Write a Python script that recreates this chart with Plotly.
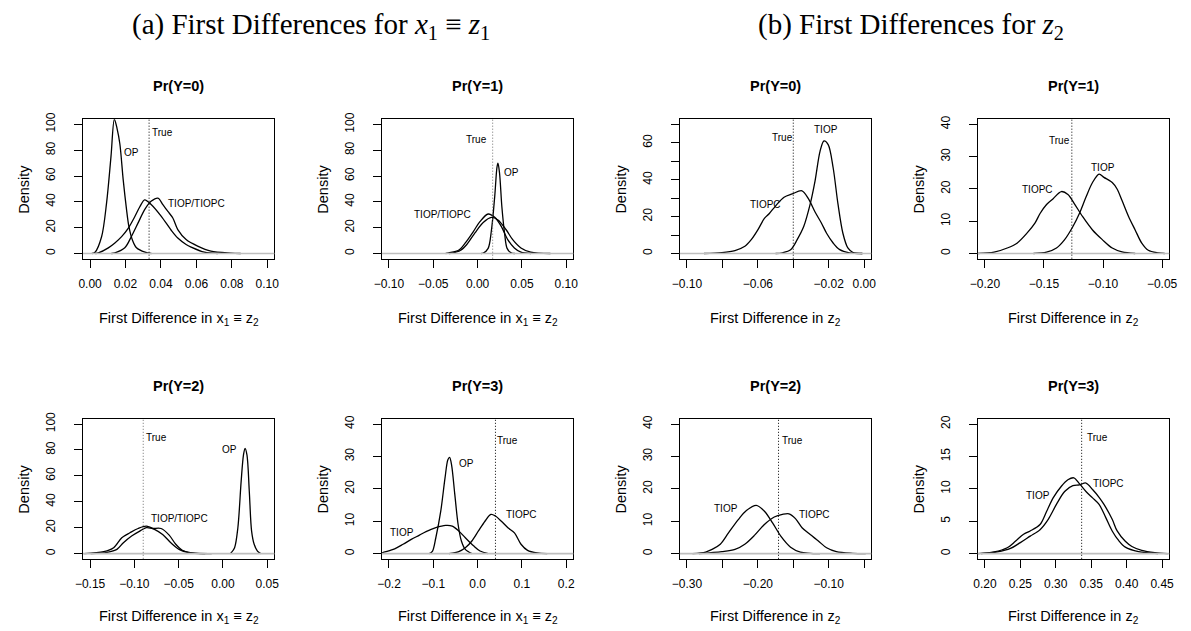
import plotly.graph_objects as go

# ---------------------------------------------------------------
# Density estimates of simulated first differences
# ---------------------------------------------------------------

# (a) x1 = z1, Pr(Y=0)
a0_op_x = [0.0010, 0.0028, 0.0065, 0.0093, 0.0118, 0.0137, 0.0152, 0.0168, 0.0187, 0.0205, 0.0219, 0.0240, 0.0262, 0.0310, 0.0346]
a0_op_y = [0, 1, 13, 39, 75, 104, 97, 85, 57, 35, 21, 10, 4.4, 1, 0]
a0_tiop_x = [0.0030, 0.0047, 0.0103, 0.0140, 0.0178, 0.0215, 0.0252, 0.0280, 0.0308, 0.0346, 0.0402, 0.0458, 0.0495, 0.0542, 0.0570, 0.0645, 0.0720]
a0_tiop_y = [0, 0.5, 4.4, 8.2, 13.1, 19.5, 28.5, 36, 41.6, 37.8, 28.8, 18, 12, 7, 5, 1, 0]
a0_tiopc_x = [0.0120, 0.0140, 0.0196, 0.0234, 0.0271, 0.0308, 0.0346, 0.0383, 0.0411, 0.0439, 0.0467, 0.0495, 0.0542, 0.0607, 0.0682, 0.0794, 0.0850]
a0_tiopc_y = [0, 0.5, 4.4, 13.4, 23.7, 34, 40.6, 42.9, 37.8, 32.6, 27.5, 18.5, 10.8, 5.7, 1.8, 0.3, 0]

# (a) Pr(Y=1)
a1_op_x = [0.0040, 0.0063, 0.0119, 0.0156, 0.0193, 0.0219, 0.0230, 0.0248, 0.0274, 0.0304, 0.0333, 0.0378, 0.0420]
a1_op_y = [0, 0.3, 4, 18, 44, 67, 70, 62, 36, 16, 4, 0.5, 0]
a1_tiop_x = [-0.0360, -0.0326, -0.0215, -0.0141, -0.0048, 0.0026, 0.0119, 0.0193, 0.0267, 0.0340, 0.0415, 0.0489, 0.0600]
a1_tiop_y = [0, 0.5, 2.5, 8, 17, 24.7, 30.6, 28, 21, 10.7, 4.3, 1, 0]
a1_tiopc_x = [-0.0320, -0.0289, -0.0196, -0.0122, -0.0030, 0.0063, 0.0156, 0.0230, 0.0322, 0.0396, 0.0489, 0.0600, 0.0822]
a1_tiopc_y = [0, 0.3, 2.3, 7, 16, 24, 28, 26, 18.4, 10.7, 4.3, 1, 0]

# (a) Pr(Y=2)
a2_op_x = [0.0080, 0.0094, 0.0131, 0.0168, 0.0205, 0.0231, 0.0249, 0.0271, 0.0297, 0.0323, 0.0352, 0.0389, 0.0426]
a2_op_y = [0, 0.8, 4.6, 20, 55.8, 76, 81.3, 76, 48, 17.4, 7.2, 2, 0]
a2_tiop_x = [-0.1566, -0.1345, -0.1234, -0.1142, -0.1050, -0.0958, -0.0865, -0.0773, -0.0681, -0.0589, -0.0496, -0.0386, -0.0200]
a2_tiop_y = [0, 1.5, 4.6, 12.3, 16.1, 19.4, 21.2, 18.7, 14.8, 8.4, 3.3, 0.8, 0]
a2_tiopc_x = [-0.1493, -0.1308, -0.1197, -0.1124, -0.1031, -0.0939, -0.0865, -0.0792, -0.0699, -0.0607, -0.0533, -0.0459, -0.0349, -0.0127]
a2_tiopc_y = [0, 1, 3.3, 8.4, 13.6, 17.4, 20, 19.4, 19.4, 14.3, 7.2, 2.6, 0.5, 0]

# (a) Pr(Y=3)
a3_op_x = [-0.1090, -0.1017, -0.0943, -0.0832, -0.0736, -0.0671, -0.0632, -0.0588, -0.0514, -0.0440, -0.0366, -0.0277, -0.0129]
a3_op_y = [0, 0.8, 4.9, 13.1, 23.3, 29, 29.7, 27.4, 18.2, 9, 3.9, 1.3, 0]
a3_tiop_x = [-0.2160, -0.2126, -0.1904, -0.1682, -0.1497, -0.1312, -0.1164, -0.0943, -0.0721, -0.0573, -0.0425, -0.0277, -0.0092, 0.0055, 0.0240]
a3_tiop_y = [0.3, 0.4, 1.3, 2.9, 4.4, 5.7, 6.8, 8, 8.7, 8.5, 7, 4.9, 2.4, 0.8, 0]
a3_tiopc_x = [-0.0647, -0.0425, -0.0277, -0.0129, 0.0019, 0.0166, 0.0300, 0.0403, 0.0536, 0.0684, 0.0832, 0.0980, 0.1128, 0.1349, 0.1571]
a3_tiopc_y = [0, 0.6, 1.8, 3.9, 7, 10, 12.1, 11.6, 10, 8, 6.4, 2.9, 1, 0.2, 0]

# (b) z2, Pr(Y=0)
b0_tiop_x = [-0.0500, -0.0461, -0.0415, -0.0378, -0.0341, -0.0304, -0.0277, -0.0249, -0.0227, -0.0203, -0.0175, -0.0148, -0.0120, -0.0092, -0.0065, -0.0010]
b0_tiop_y = [0, 0.4, 2, 7.5, 14.6, 27, 39.4, 55.4, 61, 59, 46.5, 27, 11, 3, 0.7, 0]
b0_tiopc_x = [-0.0904, -0.0803, -0.0729, -0.0673, -0.0637, -0.0600, -0.0563, -0.0535, -0.0498, -0.0452, -0.0406, -0.0351, -0.0314, -0.0277, -0.0240, -0.0212, -0.0175, -0.0138, -0.0083, -0.0010]
b0_tiopc_y = [0, 0.5, 1.6, 3.9, 7.5, 12.8, 19, 21.7, 26, 30.5, 32.3, 34, 29.6, 22.5, 16.3, 11, 5.7, 2.1, 0.4, 0]

# (b) Pr(Y=1)
b1_tiop_x = [-0.1589, -0.1478, -0.1394, -0.1325, -0.1256, -0.1200, -0.1144, -0.1089, -0.1033, -0.0992, -0.0922, -0.0881, -0.0839, -0.0783, -0.0728, -0.0672, -0.0617, -0.0533, -0.0478]
b1_tiop_y = [0, 0.4, 1.7, 4.3, 8.3, 12.4, 17.5, 22, 24.6, 23.6, 22, 20, 16.4, 11.4, 7.3, 3.2, 1, 0.2, 0]
b1_tiopc_x = [-0.2061, -0.1922, -0.1811, -0.1728, -0.1644, -0.1575, -0.1533, -0.1478, -0.1422, -0.1353, -0.1297, -0.1242, -0.1172, -0.1089, -0.1006, -0.0922, -0.0839, -0.0728]
b1_tiopc_y = [0, 0.4, 1.7, 3.2, 6.3, 9.5, 12.4, 15.2, 17, 19.2, 18.3, 15.4, 11.4, 7.3, 4.3, 1.7, 0.5, 0]

# (b) Pr(Y=2)
b2_tiop_x = [-0.2922, -0.2737, -0.2645, -0.2530, -0.2414, -0.2276, -0.2161, -0.2022, -0.1907, -0.1792, -0.1676, -0.1538, -0.1400, -0.1123]
b2_tiop_y = [0, 0.5, 1.3, 2.9, 6.4, 10.5, 13.3, 14.9, 13.1, 9.5, 5.4, 2, 0.5, 0]
b2_tiopc_x = [-0.2829, -0.2506, -0.2322, -0.2184, -0.2045, -0.1907, -0.1768, -0.1653, -0.1561, -0.1469, -0.1376, -0.1261, -0.1146, -0.1030, -0.0892, -0.0661, -0.0477]
b2_tiopc_y = [0, 0.6, 1.3, 2.9, 5.7, 9, 11.3, 12.1, 12.3, 10.8, 8, 5.9, 3.9, 1.8, 0.6, 0.1, 0]

# (b) Pr(Y=3)
b3_tiop_x = [0.1900, 0.2130, 0.2315, 0.2430, 0.2546, 0.2639, 0.2778, 0.2870, 0.2963, 0.3079, 0.3171, 0.3255, 0.3333, 0.3426, 0.3519, 0.3611, 0.3704, 0.3796, 0.3889, 0.3981, 0.4167, 0.4444]
b3_tiop_y = [0, 0.26, 0.9, 1.9, 3, 3.5, 4.5, 6.5, 8.6, 10.4, 11.4, 11.7, 10.8, 9.6, 8.6, 7.6, 5.6, 3.5, 2.0, 1.0, 0.3, 0]
b3_tiopc_x = [0.1944, 0.2176, 0.2361, 0.2500, 0.2639, 0.2778, 0.2894, 0.3009, 0.3125, 0.3241, 0.3333, 0.3426, 0.3519, 0.3611, 0.3680, 0.3796, 0.3866, 0.3981, 0.4074, 0.4213, 0.4398, 0.4580]
b3_tiopc_y = [0, 0.26, 0.8, 1.7, 2.7, 3.7, 5.3, 7.6, 9.6, 10.5, 10.6, 10.9, 9.9, 8.7, 7.6, 5.3, 3.5, 1.9, 1.1, 0.5, 0.15, 0]

# true first differences (vertical reference lines)
true_values = [0.0333, 0.0170, -0.0900, 0.0403, -0.0400, -0.1264, -0.1708, 0.3365]

# axis limits and ticks
xlims = [(0.0, 0.10), (-0.10, 0.10), (-0.15, 0.05), (-0.2, 0.2),
         (-0.10, 0.0), (-0.20, -0.05), (-0.30, -0.05), (0.20, 0.45)]
ylims = [100, 100, 100, 40, 70, 40, 40, 20]

xtick_vals = [
    [0.00, 0.02, 0.04, 0.06, 0.08, 0.10],
    [-0.10, -0.05, 0.00, 0.05, 0.10],
    [-0.15, -0.10, -0.05, 0.00, 0.05],
    [-0.2, -0.1, 0.0, 0.1, 0.2],
    [-0.10, -0.08, -0.06, -0.04, -0.02, 0.00],
    [-0.20, -0.15, -0.10, -0.05],
    [-0.30, -0.25, -0.20, -0.15, -0.10, -0.05],
    [0.20, 0.25, 0.30, 0.35, 0.40, 0.45],
]
xtick_text = [
    ["0.00", "0.02", "0.04", "0.06", "0.08", "0.10"],
    ["\u22120.10", "\u22120.05", "0.00", "0.05", "0.10"],
    ["\u22120.15", "\u22120.10", "\u22120.05", "0.00", "0.05"],
    ["\u22120.2", "\u22120.1", "0.0", "0.1", "0.2"],
    ["\u22120.10", "", "\u22120.06", "", "\u22120.02", "0.00"],
    ["\u22120.20", "\u22120.15", "\u22120.10", "\u22120.05"],
    ["\u22120.30", "", "\u22120.20", "", "\u22120.10", ""],
    ["0.20", "0.25", "0.30", "0.35", "0.40", "0.45"],
]
ytick_vals = [
    [0, 20, 40, 60, 80, 100],
    [0, 20, 40, 60, 80, 100],
    [0, 20, 40, 60, 80, 100],
    [0, 10, 20, 30, 40],
    [0, 10, 20, 30, 40, 50, 60, 70],
    [0, 10, 20, 30, 40],
    [0, 10, 20, 30, 40],
    [0, 5, 10, 15, 20],
]
ytick_text = [
    ["0", "20", "40", "60", "80", "100"],
    ["0", "20", "40", "60", "80", "100"],
    ["0", "20", "40", "60", "80", "100"],
    ["0", "10", "20", "30", "40"],
    ["0", "", "20", "", "40", "", "60", ""],
    ["0", "10", "20", "30", "40"],
    ["0", "10", "20", "30", "40"],
    ["0", "5", "10", "15", "20"],
]

titles = ["Pr(Y=0)", "Pr(Y=1)", "Pr(Y=2)", "Pr(Y=3)",
          "Pr(Y=0)", "Pr(Y=1)", "Pr(Y=2)", "Pr(Y=3)"]
xlabel_a = "First Difference in x<sub>1</sub> \u2261 z<sub>2</sub>"
xlabel_b = "First Difference in z<sub>2</sub>"

curves = [
    [(a0_op_x, a0_op_y), (a0_tiop_x, a0_tiop_y), (a0_tiopc_x, a0_tiopc_y)],
    [(a1_op_x, a1_op_y), (a1_tiop_x, a1_tiop_y), (a1_tiopc_x, a1_tiopc_y)],
    [(a2_op_x, a2_op_y), (a2_tiop_x, a2_tiop_y), (a2_tiopc_x, a2_tiopc_y)],
    [(a3_op_x, a3_op_y), (a3_tiop_x, a3_tiop_y), (a3_tiopc_x, a3_tiopc_y)],
    [(b0_tiop_x, b0_tiop_y), (b0_tiopc_x, b0_tiopc_y)],
    [(b1_tiop_x, b1_tiop_y), (b1_tiopc_x, b1_tiopc_y)],
    [(b2_tiop_x, b2_tiop_y), (b2_tiopc_x, b2_tiopc_y)],
    [(b3_tiop_x, b3_tiop_y), (b3_tiopc_x, b3_tiopc_y)],
]

# curve labels: (text, x, y) in data units
curve_labels = [
    [("True", 0.0407, 93.8), ("OP", 0.0234, 78), ("TIOP/TIOPC", 0.060, 39)],
    [("True", -0.0011, 88.3), ("OP", 0.0378, 63), ("TIOP/TIOPC", -0.0393, 30.4)],
    [("True", -0.0747, 89.8), ("OP", 0.0076, 80), ("TIOP/TIOPC", -0.0496, 26.9)],
    [("True", 0.0684, 35), ("OP", -0.0255, 27.9), ("TIOPC", 0.0994, 12), ("TIOP", -0.1697, 6.6)],
    [("TIOP", -0.0216, 67.3), ("True", -0.0461, 62.8), ("TIOPC", -0.0559, 26.6)],
    [("True", -0.1367, 34.9), ("TIOP", -0.100, 26.6), ("TIOPC", -0.1556, 19.7)],
    [("True", -0.1506, 35), ("TIOP", -0.2456, 13.8), ("TIOPC", -0.1206, 12.1)],
    [("True", 0.3588, 17.9), ("TIOPC", 0.375, 10.9), ("TIOP", 0.2755, 9.0)],
]

# ---------------------------------------------------------------
# layout geometry (pixels)
# ---------------------------------------------------------------
W, H = 1191, 631
col_lr = [(76, 270), (379, 573), (681, 875), (983, 1177)]
row_tb = [(113.5, 254.5), (416.5, 558)]
title_y = [80, 383]
xlab_y = [316, 617]
# panel order: (a) Y=0, Y=1, Y=2, Y=3, (b) Y=0, Y=1, Y=2, Y=3
panel_pos = [(0, 0), (1, 0), (0, 1), (1, 1), (2, 0), (3, 0), (2, 1), (3, 1)]

SANS = "Liberation Sans, Arial, Helvetica, sans-serif"
SERIF = "Liberation Serif, Times New Roman, serif"

fig = go.Figure()
layout = dict(
    width=W, height=H,
    margin=dict(l=0, r=0, t=0, b=0),
    paper_bgcolor="white", plot_bgcolor="white",
    showlegend=False,
    annotations=[], shapes=[],
)

for i in range(8):
    c, r = panel_pos[i]
    L, R = col_lr[c]
    T, B = row_tb[r]
    n = "" if i == 0 else str(i + 1)
    xa, ya = "x" + n, "y" + n

    lo, hi = xlims[i]
    pad = 0.04 * (hi - lo)
    ymax = ylims[i]

    layout["xaxis" + n] = dict(
        domain=[L / W, R / W], anchor=ya,
        range=[lo - pad, hi + pad],
        tickmode="array", tickvals=xtick_vals[i], ticktext=xtick_text[i],
        ticks="outside", ticklen=8, tickwidth=1, tickcolor="black",
        ticklabelstandoff=6,
        showline=True, mirror=True, linecolor="black", linewidth=1,
        showgrid=False, zeroline=False,
        tickfont=dict(family=SANS, size=12, color="black"),
    )
    layout["yaxis" + n] = dict(
        domain=[1 - B / H, 1 - T / H], anchor=xa,
        range=[-0.04 * ymax, 1.04 * ymax],
        tickmode="array", tickvals=ytick_vals[i], ticktext=ytick_text[i],
        ticks="outside", ticklen=8, tickwidth=1, tickcolor="black",
        tickangle=-90, ticklabelstandoff=14,
        showline=True, mirror=True, linecolor="black", linewidth=1,
        showgrid=False, zeroline=False,
        tickfont=dict(family=SANS, size=12, color="black"),
    )

    for cx, cy in curves[i]:
        fig.add_trace(go.Scatter(
            x=cx, y=cy, xaxis=xa, yaxis=ya, mode="lines",
            line=dict(color="black", width=1.3, shape="spline", smoothing=0.9),
            hoverinfo="skip",
        ))

    # zero line
    layout["shapes"].append(dict(
        type="line", xref=xa + " domain", yref=ya, x0=0, x1=1, y0=0, y1=0,
        line=dict(color="#BEBEBE", width=1.6), layer="above",
    ))
    # true value
    true_col = "#707070" if i in (1, 2) else "black"
    layout["shapes"].append(dict(
        type="line", xref=xa, yref=ya + " domain", x0=true_values[i], x1=true_values[i],
        y0=0, y1=1, line=dict(color=true_col, width=1, dash="1px,2px"), layer="above",
    ))

    for txt, tx, ty in curve_labels[i]:
        layout["annotations"].append(dict(
            text=txt, x=tx, y=ty, xref=xa, yref=ya, showarrow=False,
            xanchor="center", yanchor="middle",
            font=dict(family=SANS, size=10, color="black"),
        ))

    # panel title
    layout["annotations"].append(dict(
        text="<b>" + titles[i] + "</b>", x=(L + R) / 2 / W, y=1 - title_y[r] / H,
        xref="paper", yref="paper", showarrow=False, xanchor="center", yanchor="middle",
        font=dict(family=SANS, size=14.5, color="black"),
    ))
    # x label
    layout["annotations"].append(dict(
        text=xlabel_a if i < 4 else xlabel_b, x=(L + R) / 2 / W, y=1 - xlab_y[r] / H,
        xref="paper", yref="paper", showarrow=False, xanchor="center", yanchor="middle",
        font=dict(family=SANS, size=14.5, color="black"),
    ))
    # y label
    layout["annotations"].append(dict(
        text="Density", x=(L - 60) / W, y=1 - (T + B) / 2 / H, textangle=-90,
        xref="paper", yref="paper", showarrow=False, xanchor="center", yanchor="middle",
        font=dict(family=SANS, size=14.5, color="black"),
    ))

# group headings
layout["annotations"].append(dict(
    text="(a) First Differences for <i>x</i><sub>1</sub> \u2261 <i>z</i><sub>1</sub>",
    x=307 / W, y=1 - 19 / H, xref="paper", yref="paper", showarrow=False,
    xanchor="center", yanchor="middle",
    font=dict(family=SERIF, size=29, color="black"),
))
layout["annotations"].append(dict(
    text="(b) First Differences for <i>z</i><sub>2</sub>",
    x=915 / W, y=1 - 19 / H, xref="paper", yref="paper", showarrow=False,
    xanchor="center", yanchor="middle",
    font=dict(family=SERIF, size=29, color="black"),
))

fig.update_layout(**layout)
fig.write_html("out.html")
